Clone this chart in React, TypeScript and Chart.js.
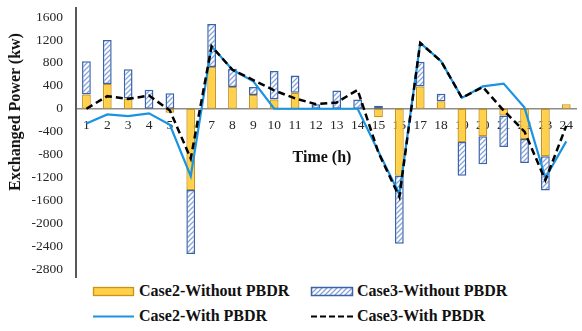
import React, { useEffect, useRef } from 'react';
import { Chart, registerables } from 'chart.js';

Chart.register(...registerables);

const hours = ['1', '2', '3', '4', '5', '6', '7', '8', '9', '10', '11', '12', '13', '14', '15', '16', '17', '18', '19', '20', '21', '22', '23', '24'];
// Stacked column segments (kW)
const case2Without = [250, 430, 180, 0, -70, -1420, 730, 380, 240, 160, 280, 0, 0, 0, -150, -1170, 390, 130, -580, -480, -120, -530, -830, 80];
const case3Without = [580, 770, 510, 330, 270, -1120, 750, 320, 140, 500, 300, 80, 320, 160, 50, -1190, 430, 130, -590, -490, -550, -420, -600, 0];
// Lines (kW)
const case2With = [-260, -100, -130, -80, -280, -1180, 1090, 680, 480, 0, 0, 0, 0, 0, -750, -1490, 1150, 830, 190, 390, 440, 20, -1210, -570];
const case3With = [0, 220, 170, 230, -30, -870, 1090, 680, 500, 320, 180, 80, 110, 330, -770, -1540, 1150, 830, 190, 380, -30, -400, -1250, -300];
const yTicks = [-2800, -2400, -2000, -1600, -1200, -800, -400, 0, 400, 800, 1200, 1600];

const SERIF = "'Liberation Serif', 'Times New Roman', serif";
const YELLOW = '#FFD14A';
const YELLOW_BORDER = '#C9931A';
const BLUE_BORDER = '#3C63A8';
const HATCH = '#86A4DA';
const LINE_BLUE = '#1A94E0';

function makeHatch(ctx: CanvasRenderingContext2D) {
  const c = document.createElement('canvas');
  c.width = 5;
  c.height = 5;
  const g = c.getContext('2d')!;
  g.fillStyle = '#ffffff';
  g.fillRect(0, 0, 5, 5);
  g.strokeStyle = HATCH;
  g.lineWidth = 1.3;
  g.beginPath();
  g.moveTo(0, 5);
  g.lineTo(5, 0);
  g.moveTo(-1, 1);
  g.lineTo(1, -1);
  g.moveTo(4, 6);
  g.lineTo(6, 4);
  g.stroke();
  return ctx.createPattern(c, 'repeat');
}

export default function App() {
  const ref = useRef<HTMLCanvasElement>(null);

  useEffect(() => {
    const canvas = ref.current!;
    const ctx = canvas.getContext('2d')!;
    const hatch = makeHatch(ctx);
    const chart = new Chart(canvas, {
      type: 'bar',
      data: {
        labels: hours,
        datasets: [
          {
            type: 'bar',
            label: 'Case2-Without PBDR',
            data: case2Without,
            backgroundColor: YELLOW,
            borderColor: YELLOW_BORDER,
            borderWidth: 1.3,
            borderSkipped: false,
            stack: 'bars',
            order: 2,
            categoryPercentage: 1,
            barPercentage: 0.42,
          },
          {
            type: 'bar',
            label: 'Case3-Without PBDR',
            data: case3Without,
            backgroundColor: hatch as any,
            borderColor: BLUE_BORDER,
            borderWidth: 1.5,
            borderSkipped: false,
            stack: 'bars',
            order: 2,
            categoryPercentage: 1,
            barPercentage: 0.42,
          },
          {
            type: 'line',
            label: 'Case2-With PBDR',
            data: case2With,
            borderColor: LINE_BLUE,
            borderWidth: 2.2,
            pointRadius: 0,
            tension: 0,
            fill: false,
            order: 1,
          },
          {
            type: 'line',
            label: 'Case3-With PBDR',
            data: case3With,
            borderColor: '#000000',
            borderWidth: 2.5,
            borderDash: [7, 4],
            pointRadius: 0,
            tension: 0,
            fill: false,
            order: 0,
          },
        ],
      },
      options: {
        responsive: false,
        animation: false,
        devicePixelRatio: 1,
        layout: { padding: { top: 8, right: 0, bottom: 3, left: 0 } },
        plugins: {
          legend: { display: false },
          tooltip: { enabled: false },
          title: { display: false },
        },
        scales: {
          x: {
            type: 'category',
            position: { y: 0 } as any,
            z: 1,
            grid: { display: false, drawTicks: false },
            border: { display: true, color: '#8C8C8C', width: 1.5 },
            ticks: {
              color: '#262626',
              font: { family: SERIF, size: 13.5 },
              padding: 9,
              maxRotation: 0,
              autoSkip: false,
            },
          },
          y: {
            min: -2940,
            max: 1760,
            grid: { display: false, drawTicks: false },
            border: { display: true, color: '#595959', width: 2 },
            afterBuildTicks: (scale: any) => {
              scale.ticks = yTicks.map((v) => ({ value: v }));
            },
            afterFit: (scale: any) => {
              scale.width = 76;
              scale.paddingTop = 0;
              scale.paddingBottom = 0;
            },
            ticks: {
              color: '#262626',
              font: { family: SERIF, size: 13.5 },
              padding: 13,
              callback: (v: any) => String(v),
            },
          },
        },
      },
    });
    return () => chart.destroy();
  }, []);

  const textStyle: React.CSSProperties = {
    position: 'absolute',
    fontFamily: SERIF,
    fontWeight: 'bold',
    fontSize: 16,
    color: '#111111',
    lineHeight: '18px',
    whiteSpace: 'nowrap',
  };

  return (
    <div style={{ position: 'absolute', left: 0, top: 0, width: 582, height: 331, background: '#ffffff', overflow: 'hidden' }}>
      <canvas ref={ref} width={582} height={280} style={{ display: 'block', width: 582, height: 280 }} />
      <div style={{ ...textStyle, left: 15, top: 112, transform: 'translate(-50%, -50%) rotate(-90deg)' }}>Exchanged Power (kw)</div>
      <div style={{ ...textStyle, left: 322, top: 157, transform: 'translate(-50%, -50%)' }}>Time (h)</div>
      <svg width={582} height={51} style={{ position: 'absolute', left: 0, top: 280 }}>
        <defs>
          <pattern id="hatch" width="5" height="5" patternUnits="userSpaceOnUse">
            <rect width="5" height="5" fill="#ffffff" />
            <path d="M0,5 L5,0 M-1,1 L1,-1 M4,6 L6,4" stroke={HATCH} strokeWidth="1.3" />
          </pattern>
        </defs>
        <rect x={93.5} y={7.5} width={40} height={8} fill={YELLOW} stroke={YELLOW_BORDER} strokeWidth={1.3} />
        <rect x={311.5} y={7.5} width={41} height={8} fill="url(#hatch)" stroke={BLUE_BORDER} strokeWidth={1.5} />
        <line x1={93} y1={36.5} x2={134} y2={36.5} stroke={LINE_BLUE} strokeWidth={2.2} />
        <line x1={311} y1={36.5} x2={353} y2={36.5} stroke="#000000" strokeWidth={2.2} strokeDasharray="6,3" />
      </svg>
      <div style={{ ...textStyle, left: 139, top: 282 }}>Case2-Without PBDR</div>
      <div style={{ ...textStyle, left: 357, top: 282 }}>Case3-Without PBDR</div>
      <div style={{ ...textStyle, left: 139, top: 307 }}>Case2-With PBDR</div>
      <div style={{ ...textStyle, left: 357, top: 307 }}>Case3-With PBDR</div>
    </div>
  );
}
